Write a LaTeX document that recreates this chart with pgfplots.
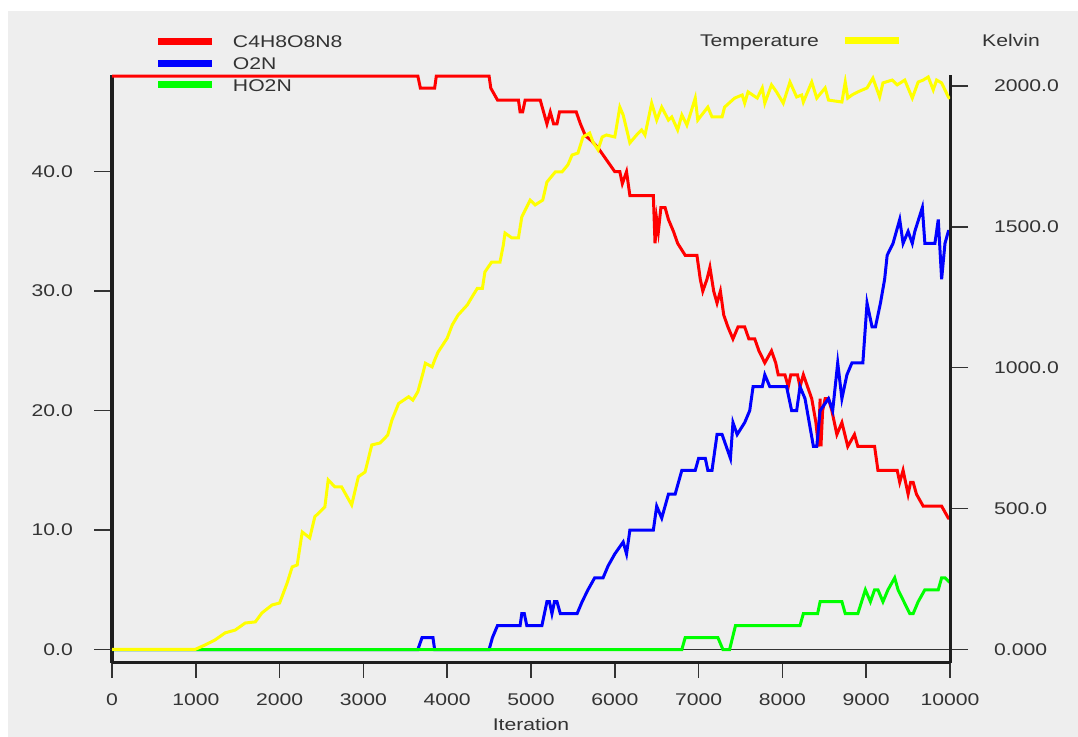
\documentclass[border=0pt]{standalone}
\usepackage{pgfplots}
\pgfplotsset{compat=1.18}
\usepackage{fontspec}
\setmainfont{Liberation Sans}[FakeStretch=1.25]
\definecolor{bg}{HTML}{EEEEEE}
\definecolor{txt}{HTML}{333333}
\definecolor{axc}{HTML}{1E1E1E}
\definecolor{cred}{HTML}{FF0000}
\definecolor{cblue}{HTML}{0000FF}
\definecolor{cgreen}{HTML}{00FF00}
\definecolor{cyellow}{HTML}{FFFF00}

\pgfplotstableread{
x y
0 48
3650 48
3680 47
3850 47
3870 48
4500 48
4520 47
4600 46
4850 46
4870 45
4900 45
4930 46
5110 46
5150 45
5190 44
5230 45
5270 44
5310 44
5340 45
5540 45
5590 44
5650 43
5720 42.6
5800 42
5900 41
6000 40
6060 40
6090 39
6140 40
6160 39
6180 38
6460 38
6480 34
6500 36
6520 35
6550 37
6600 37
6640 36
6700 35
6750 34
6840 33
6980 33
7020 31
7050 30
7100 31
7135 32
7180 30
7220 29
7260 30
7300 28
7350 27
7410 26
7470 27
7550 27
7600 26
7670 26
7720 25
7790 24
7870 25
7920 24
7950 23
8030 23
8070 22
8100 23
8180 23
8210 22
8250 23
8300 22
8350 21
8400 19
8430 17
8450 21
8460 17
8480 20
8510 21
8550 21
8590 20
8650 18
8710 19
8780 17
8860 18
8900 17
9100 17
9140 15
9370 15
9400 14
9440 15
9500 13
9530 14
9560 14
9600 13
9680 12
9900 12
9980 11
10000 11
}\redtab

\pgfplotstableread{
x y
0 0
3650 0
3700 1
3830 1
3850 0
4500 0
4540 1
4600 2
4870 2
4890 3
4920 3
4950 2
5130 2
5190 4
5220 4
5250 3
5280 4
5310 4
5350 3
5550 3
5610 4
5680 5
5760 6
5860 6
5920 7
6000 8
6100 9
6140 8
6180 10
6460 10
6500 12
6560 11
6640 13
6720 13
6800 15
6960 15
7000 16
7080 16
7110 15
7160 15
7220 18
7280 18
7380 16
7410 19
7460 18
7550 19
7610 20
7650 22
7760 22
7790 23
7850 22
8050 22
8110 20
8170 20
8210 22
8270 21
8370 17
8410 17
8450 20
8550 21
8600 20
8660 24
8710 21
8770 23
8830 24
8960 24
8990 27
9010 29
9070 27
9110 27
9170 29
9220 31
9250 33
9320 34
9400 36
9440 34
9500 35
9550 34
9580 35
9670 37
9700 34
9820 34
9860 36
9900 31
9940 34
9980 35
10000 35
}\bluetab

\pgfplotstableread{
x y
0 0
6800 0
6840 1
7230 1
7290 0
7370 0
7440 2
8210 2
8250 3
8420 3
8450 4
8710 4
8750 3
8900 3
8990 5
9050 4
9100 5
9140 5
9200 4
9260 5
9340 6
9380 5
9520 3
9560 3
9620 4
9700 5
9860 5
9900 6
9940 6
10000 5.6
}\greentab

\pgfplotstableread{
x y
0 0
990 0
1110 16
1230 34
1350 59
1470 69
1590 94
1710 98
1790 130
1910 158
2000 165
2090 236
2150 293
2210 300
2270 417
2360 396
2420 471
2540 506
2580 602
2660 577
2740 577
2860 513
2940 613
3020 630
3100 726
3200 733
3290 761
3340 814
3420 873
3540 897
3590 885
3650 915
3710 980
3740 1016
3820 1003
3850 1027
3890 1055
4000 1105
4060 1152
4130 1187
4240 1223
4310 1258
4360 1282
4420 1282
4450 1340
4530 1375
4630 1375
4670 1436
4690 1478
4770 1461
4850 1461
4890 1535
4990 1595
5050 1578
5140 1595
5190 1659
5290 1695
5370 1695
5440 1720
5490 1755
5560 1762
5620 1819
5700 1833
5740 1801
5800 1773
5850 1819
5900 1826
6000 1819
6060 1925
6100 1897
6180 1798
6260 1826
6320 1844
6360 1826
6440 1939
6500 1879
6560 1925
6640 1879
6680 1890
6750 1844
6800 1897
6860 1861
6960 1957
6990 1879
7110 1925
7160 1890
7280 1890
7310 1925
7430 1957
7520 1968
7550 1939
7590 1979
7700 1957
7760 1993
7790 1939
7870 2004
7930 1979
8010 1939
8090 2014
8170 1961
8230 1968
8250 1943
8350 2014
8410 1957
8510 1993
8550 1950
8710 1943
8750 2014
8780 1957
8830 1968
8900 1979
9010 1993
9080 2028
9160 1961
9200 2011
9310 2021
9370 2004
9460 2021
9550 1957
9620 2014
9680 2021
9740 2032
9800 1986
9840 2021
9900 2011
9980 1961
10000 1955
}\yellowtab

\begin{document}
\fontsize{17}{20}\selectfont
\begin{tikzpicture}
\fill[white] (0bp,0bp) rectangle (1078bp,737bp);
\fill[bg] (8bp,0bp) rectangle (1078bp,726bp);
\pgfplotsset{
  common/.style={
    at={(112bp,74.3bp)}, anchor=south west,
    scale only axis, width=838bp, height=587.7bp,
    xmin=0, xmax=10000,
    scaled x ticks=false, scaled y ticks=false,
    axis line style={axc, line width=3bp},
    tick align=outside,
    tick style={color=txt, line width=1.5bp},
    ticklabel style={font=\fontsize{17}{20}\selectfont, text=txt},
    label style={font=\fontsize{17}{20}\selectfont, text=txt},
    clip mode=individual,
    legend style={draw=none, fill=none, inner sep=0pt, outer sep=0pt,
      font=\fontsize{17}{20}\selectfont, text=txt,
      nodes={inner sep=0pt, text height=12.2bp, text depth=0pt},
      row sep=9.5bp},
    legend cell align=left,
    legend image code/.code={\draw[##1, line width=7bp] (0bp,0bp) -- (54bp,0bp);},
  }
}
\begin{axis}[common,
  ymin=-1.105, ymax=48.096,
  axis x line*=bottom, axis y line*=left,
  xtick={0,1000,2000,3000,4000,5000,6000,7000,8000,9000,10000},
  xticklabels={0,1000,2000,3000,4000,5000,6000,7000,8000,9000,10000},
  xtick style={/pgfplots/major tick length=15bp},
  xticklabel style={yshift=-21bp},
  ytick={0,10,20,30,40},
  yticklabels={0.0,10.0,20.0,30.0,40.0},
  ytick style={/pgfplots/major tick length=18bp},
  yticklabel style={xshift=-29bp},
  extra y ticks={0}, extra y tick labels={},
  extra y tick style={grid=major, major grid style={color=txt, line width=1.5bp}},
  xlabel={Iteration},
  xlabel style={at={(rel axis cs:0.5,0)}, anchor=center, yshift=-62bp},
  legend style={at={(rel axis cs:0.0513,1.0672)}, anchor=north west, column sep=17bp},
]
\addplot[cred, line width=3bp] table[x=x,y=y] {\redtab};
\addlegendentry{C4H8O8N8}
\addplot[cblue, line width=3bp] table[x=x,y=y] {\bluetab};
\addlegendentry{O2N}
\addplot[cgreen, line width=3bp] table[x=x,y=y] {\greentab};
\addlegendentry{HO2N}
\end{axis}
\begin{axis}[common,
  ymin=-46.85, ymax=2039.0,
  axis x line=none, axis y line*=right,
  ytick={0,500,1000,1500,2000},
  yticklabels={0.000,500.0,1000.0,1500.0,2000.0},
  ytick style={/pgfplots/major tick length=18bp},
  yticklabel style={anchor=west, xshift=34bp},
  legend plot pos=right,
  legend style={at={(rel axis cs:0.7017,1.0698)}, anchor=north west, column sep=23bp},
]
\addplot[cyellow, line width=3bp] table[x=x,y=y] {\yellowtab};
\addlegendentry{Temperature}
\end{axis}
\node[anchor=north west, inner sep=0pt, text=txt, text height=12.2bp, text depth=0pt] at (982bp,703bp) {Kelvin};
\pgfresetboundingbox
\path (0bp,0bp) rectangle (1078bp,737bp);
\end{tikzpicture}
\end{document}
